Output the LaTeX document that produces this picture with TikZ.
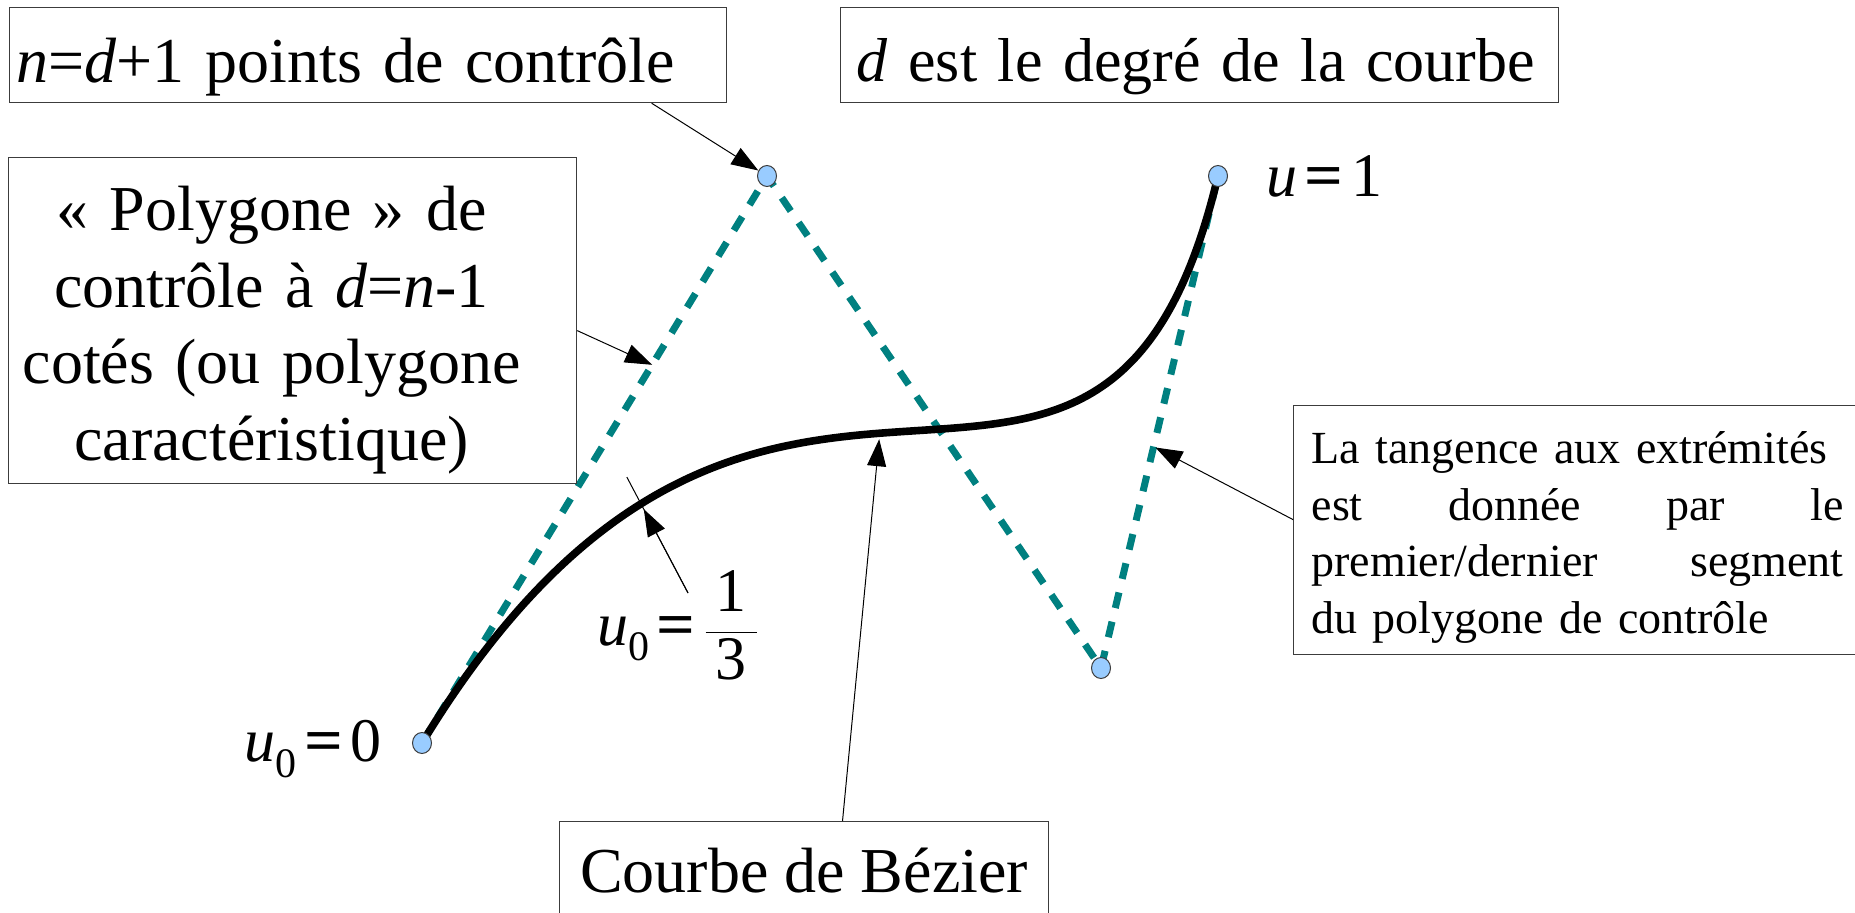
\documentclass[tikz,border=0pt]{standalone}
\usepackage{fontspec}
\setmainfont{Liberation Serif}
\usepackage{graphicx}
\usepackage{tikz}
\usetikzlibrary{arrows.meta,positioning,calc,shapes.geometric}
\definecolor{polyteal}{HTML}{008080}
\definecolor{ptblue}{HTML}{99CCFF}
\definecolor{edgegray}{HTML}{3C3C3C}
\newcommand{\thickeq}{\hspace{.12em}\scalebox{1.1}[1]{\textbf{=}}\hspace{.12em}}
\newcommand{\usub}{\textit{u}\raisebox{-.25em}{\fontsize{21}{21}\selectfont 0}}

\begin{document}
\begin{tikzpicture}[x=0.5pt,y=-0.5pt,
  note/.style={draw=edgegray,line width=0.6pt,anchor=north west,inner ysep=0pt,align=left},
  bignote/.style={note,font=\fontsize{32}{38.35}\selectfont},
  ctrlpt/.style={ellipse,draw=edgegray,line width=0.5pt,fill=ptblue,
    minimum width=9.5pt,minimum height=10.5pt,inner sep=0pt},
  polyline/.style={polyteal,line width=3.5pt,dash pattern=on 8pt off 7pt},
  bezline/.style={line width=3.8pt},
  pointer/.style={line width=0.5pt,-{Triangle[length=13.5pt,width=9.5pt]}},
  param/.style={inner sep=0pt,font=\fontsize{31}{36}\selectfont}
]
\useasboundingbox (0,0) rectangle (1855,913);
\coordinate (c0) at (422,743);
\coordinate (c1) at (767,176);
\coordinate (c2) at (1101,668);
\coordinate (c3) at (1218,176);
\draw[polyline] (c0) -- coordinate[pos=.667] (leg1) (c1) -- (c2)
  -- coordinate[pos=.45] (leg3) (c3);
\draw[bezline] (c0) .. controls (c1) and (c2) .. coordinate[pos=.215] (third)
  coordinate[pos=.47] (mid) (c3);
\foreach \i in {0,...,3} \node[ctrlpt] (p\i) at (c\i) {};

\node[bignote,text width=352pt,inner xsep=3.25pt,text height=37.5pt,text depth=10pt]
  (ctrlnote) at (9,7) {\mbox{\textit{n}=\textit{d}+1 points de contrôle}};
\node[bignote,font=\fontsize{31}{37}\selectfont,text width=343pt,inner xsep=8pt,
  text height=37pt,text depth=10.5pt]
  (degnote) at (840,7) {\mbox{\textit{d} est le degré de la courbe}};
\node[bignote,text width=280pt,inner xsep=2pt,align=center,text height=36.5pt,text depth=126.5pt]
  (polynote) at (8,157) {« Polygone » de\kern21pt\\contrôle à \textit{d}=\textit{n}-1\kern21pt\\
  cotés (ou polygone\kern21pt\\caractéristique)\kern21pt};
\node[note,font=\fontsize{23}{28.35}\selectfont,text width=266pt,inner xsep=9pt,
  text height=29pt,text depth=95.5pt]
  (tangnote) at (1293,405) {\mbox{La tangence aux extrémités}\\est\hfill donnée\hfill par\hfill le\\
  premier/dernier\hfill segment\\du polygone de contrôle};
\node[bignote,inner xsep=10.25pt,text height=35.5pt,text depth=20.5pt]
  (beznote) at (559,821) {Courbe de Bézier};

\node[param,right=19pt of p3] (uone) {\textit{u}\thickeq 1};
\node[param,left=15pt of p0,yshift=-3pt] (uzero) {\usub\thickeq 0};
\node[param,anchor=base west] (uthird) at (597,645)
  {\usub\thickeq$\displaystyle\frac{\mbox{\,1\,}}{\mbox{\,3\,}}$};
\coordinate (tick13) at (688,593);

\draw[pointer] ($(ctrlnote.south)+(283.5,0)$) -- (p1);
\draw[pointer] ($(polynote.east)+(0,10)$) -- (leg1);
\draw[pointer,shorten >=3pt] ($(beznote.north)+(38.5,0)$) -- (mid);
\draw[pointer,shorten >=1pt] ($(tangnote.west)+(0,-10.5)$) -- (leg3);
\draw[pointer,shorten >=3pt] (tick13) -- (third);
\draw[line width=0.5pt] (tick13) -- ($(third)!-.3!(tick13)$);
\end{tikzpicture}
\end{document}
